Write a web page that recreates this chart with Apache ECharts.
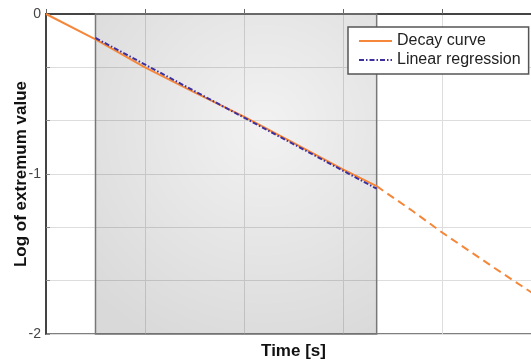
<!DOCTYPE html>
<html>
<head>
<meta charset="utf-8">
<script src="https://cdn.jsdelivr.net/npm/echarts@6/dist/echarts.min.js"></script>
<style>
  html, body { margin: 0; padding: 0; background: #fff; }
  #chart { width: 531px; height: 362px; }
</style>
</head>
<body>
<div id="chart"></div>
<script>
// decay curve, measured part (solid)
const decayX = [0, 0.5, 1, 1.5, 2, 2.5, 3, 3.34]
const decayY = [0, -0.158, -0.333, -0.49, -0.642, -0.805, -0.971, -1.076]
// decay curve, continuation (dashed)
const tailX = [3.34, 3.7, 4.0, 4.5, 5.0]
const tailY = [-1.076, -1.23, -1.365, -1.575, -1.78]
// linear regression over the shaded window
const fitX = [0.5, 3.34]
const fitY = [-0.15, -1.092]
const windowRange = [0.5, 3.34]

const pairs = (xs, ys) => xs.map((x, i) => [x, ys[i]])

let myChart = echarts.init(document.getElementById('chart'))
let options = {
  animation: false,
  grid: {
    left: 46,
    top: 14,
    right: -10,
    bottom: 28,
    outerBoundsMode: 'none',
    containLabel: false,
    show: true,
    borderColor: '#555',
    borderWidth: 1.5
  },
  legend: {
    data: ['Decay curve', 'Linear regression'],
    orient: 'vertical',
    left: 348,
    top: 27,
    padding: [6, 8, 6, 10],
    itemGap: 3,
    itemWidth: 33,
    itemHeight: 14,
    itemStyle: { opacity: 0 },
    backgroundColor: '#fff',
    borderColor: '#555',
    borderWidth: 1.5,
    textStyle: { fontSize: 16, color: '#222', fontFamily: 'Liberation Sans' }
  },
  xAxis: {
    type: 'value',
    min: 0,
    max: 5,
    interval: 1,
    name: 'Time [s]',
    nameLocation: 'middle',
    nameGap: 9,
    nameMoveOverlap: false,
    nameTextStyle: { fontSize: 17, fontWeight: 'bold', color: '#111', fontFamily: 'Liberation Sans' },
    axisLine: { lineStyle: { color: '#444', width: 2 } },
    axisTick: { inside: true, length: 5, lineStyle: { color: '#666' } },
    axisLabel: { show: false },
    splitLine: { lineStyle: { color: '#ddd', width: 1 } }
  },
  yAxis: {
    type: 'value',
    min: -2,
    max: 0,
    interval: 1 / 3,
    name: 'Log of extremum value',
    nameLocation: 'middle',
    nameGap: 16,
    nameMoveOverlap: false,
    nameTextStyle: { fontSize: 17, fontWeight: 'bold', color: '#111', fontFamily: 'Liberation Sans' },
    axisLine: { lineStyle: { color: '#444', width: 2 } },
    axisTick: { inside: true, length: 4, lineStyle: { color: '#888' } },
    axisLabel: {
      fontSize: 14,
      color: '#444',
      margin: 5,
      fontFamily: 'Liberation Sans',
      formatter: function (v) {
        let r = Math.round(v)
        return Math.abs(v - r) < 1e-6 ? String(r) : ''
      }
    },
    splitLine: { lineStyle: { color: '#ddd', width: 1 } }
  },
  series: [
    {
      name: 'Linear regression',
      type: 'line',
      data: pairs(fitX, fitY),
      showSymbol: false,
      symbol: 'none',
      z: 3,
      lineStyle: { color: '#3d309e', width: 2, type: [5, 2, 1.5, 2] },
      itemStyle: { color: '#3d309e' },
      markArea: {
        silent: true,
        itemStyle: {
          color: {
            type: 'radial',
            x: 0.6,
            y: 0.35,
            r: 0.85,
            colorStops: [
              { offset: 0, color: 'rgba(0,0,0,0.05)' },
              { offset: 1, color: 'rgba(0,0,0,0.15)' }
            ]
          },
          borderColor: '#777',
          borderWidth: 1.5
        },
        data: [[{ xAxis: windowRange[0] }, { xAxis: windowRange[1] }]]
      }
    },
    {
      name: 'Decay curve',
      type: 'line',
      data: pairs(decayX, decayY),
      showSymbol: false,
      symbol: 'none',
      z: 2,
      lineStyle: { color: '#f5873a', width: 2 },
      itemStyle: { color: '#f5873a' }
    },
    {
      name: 'Decay tail',
      type: 'line',
      data: pairs(tailX, tailY),
      showSymbol: false,
      symbol: 'none',
      z: 2,
      lineStyle: { color: '#f5873a', width: 2, type: [8, 5] },
      itemStyle: { color: '#f5873a' }
    }
  ]
}
myChart.setOption(options)
</script>
</body>
</html>
